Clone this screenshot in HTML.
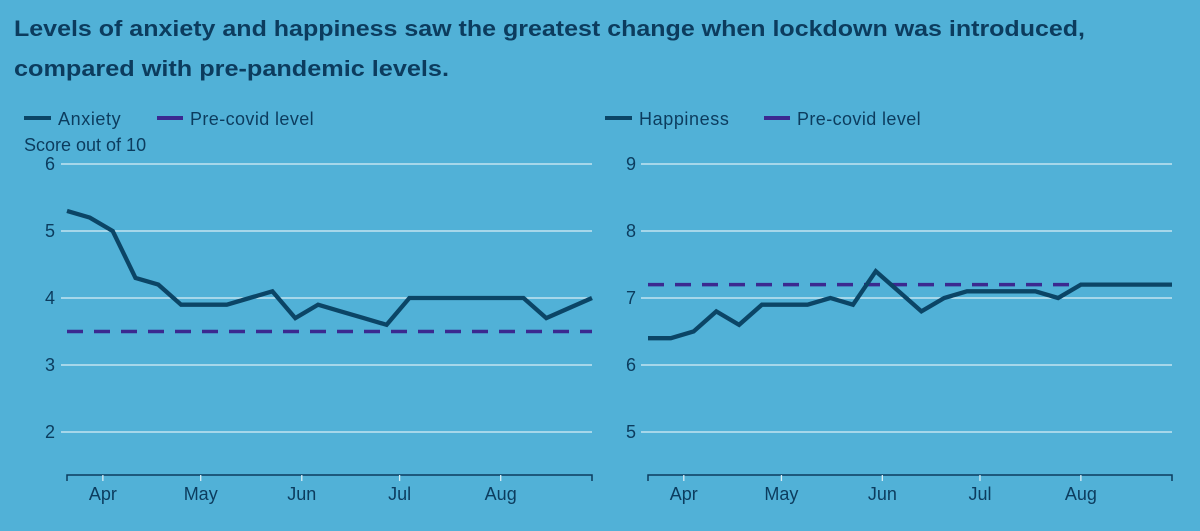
<!DOCTYPE html>
<html><head><meta charset="utf-8"><style>
html,body{margin:0;padding:0;background:#51b1d7;}
svg{display:block;font-family:"Liberation Sans",sans-serif;}
</style></head><body>
<svg id="chart" width="1200" height="531" viewBox="0 0 1200 531">
<rect width="1200" height="531" fill="#51b1d7"/>
<text x="14" y="36" font-size="22" font-weight="bold" fill="#0c3c5e" textLength="1071" lengthAdjust="spacingAndGlyphs">Levels of anxiety and happiness saw the greatest change when lockdown was introduced,</text>
<text x="14" y="76" font-size="22" font-weight="bold" fill="#0c3c5e" textLength="435" lengthAdjust="spacingAndGlyphs">compared with pre-pandemic levels.</text>
<g id="left"></g>
<g id="right"></g>
</svg>
<script>
const monthLabels = ["Apr","May","Jun","Jul","Aug"];
const monthDays = [11,41,72,102,133];
const weekIndex = [0,1,2,3,4,5,6,7,8,9,10,11,12,13,14,15,16,17,18,19,20,21,22,23];
const anxiety = [5.3,5.2,5.0,4.3,4.2,3.9,3.9,3.9,4.0,4.1,3.7,3.9,3.8,3.7,3.6,4.0,4.0,4.0,4.0,4.0,4.0,3.7,3.85,4.0];
const happiness = [6.4,6.4,6.5,6.8,6.6,6.9,6.9,6.9,7.0,6.9,7.4,7.1,6.8,7.0,7.1,7.1,7.1,7.1,7.0,7.2,7.2,7.2,7.2,7.2];
const anxietyPre = 3.5;
const happinessPre = 7.2;
const anxietyTicks = [2,3,4,5,6];
const happinessTicks = [5,6,7,8,9];
const totalDays = 161;

const NS = "http://www.w3.org/2000/svg";
function mk(parent, tag, attrs, text){
  const e = document.createElementNS(NS, tag);
  for (const k in attrs) e.setAttribute(k, attrs[k]);
  if (text !== undefined) e.textContent = text;
  parent.appendChild(e);
  return e;
}
function panel(g, opt){
  const x0 = opt.x0, x1 = opt.x1;
  const xs = d => x0 + d / totalDays * (x1 - x0);
  const ys = v => 164 + (opt.ymax - v) * 67;
  let el = mk(g,"line",{x1:opt.lx,x2:opt.lx+27,y1:118,y2:118,stroke:"#0b4566","stroke-width":4});
  
  
  el = mk(g,"text",{x:opt.lx+34,y:125,"font-size":18,fill:"#0c3c5e","letter-spacing":0.6},opt.name);
  
  
  el = mk(g,"line",{x1:opt.lx2,x2:opt.lx2+26,y1:118,y2:118,stroke:"#3b2990","stroke-width":4});
  
  
  el = mk(g,"text",{x:opt.lx2+33,y:125,"font-size":18,fill:"#0c3c5e","letter-spacing":0.4},"Pre-covid level");
  
  
  opt.ticks.forEach(t => {
    const y = ys(t);
    let l = mk(g,"line",{x1:opt.gx,x2:x1,y1:y,y2:y,stroke:"#d9eef6","stroke-width":1.3});
    
    
    let t2 = mk(g,"text",{x:opt.tx,y:y+6,"font-size":18,fill:"#0c3c5e","text-anchor":"end"},String(t));
    
    
  });
  let ax = mk(g,"path",{d:`M${x0},481 V475 H${x1} V481`,stroke:"#0c3c5e","stroke-width":1.5,fill:"none"});
  
  
  monthDays.forEach((d,i) => {
    const x = xs(d);
    let tk = mk(g,"line",{x1:x,x2:x,y1:475,y2:481,stroke:"#d9eef6","stroke-width":1.3});
    
    
    let lb = mk(g,"text",{x:x,y:500,"font-size":18,fill:"#0c3c5e","text-anchor":"middle"},monthLabels[i]);
    
    
  });
  const py = ys(opt.pre);
  let pl = mk(g,"line",{x1:x0,x2:x1,y1:py,y2:py,stroke:"#3b2990","stroke-width":3.5,"stroke-dasharray":"16,11"});
  
  
  const pts = weekIndex.map((w,i) => xs(w*7).toFixed(1)+","+ys(opt.data[i]).toFixed(1)).join(" ");
  let sl = mk(g,"polyline",{points:pts,fill:"none",stroke:"#0b4566","stroke-width":4.3,"stroke-linejoin":"miter"});
  
  
}
panel(document.getElementById("left"),{x0:67,x1:592,gx:61,tx:55,lx:24,lx2:157,ymax:6,ticks:anxietyTicks,data:anxiety,pre:anxietyPre,name:"Anxiety",id:"anxiety"});
panel(document.getElementById("right"),{x0:648,x1:1172,gx:641,tx:636,lx:605,lx2:764,ymax:9,ticks:happinessTicks,data:happiness,pre:happinessPre,name:"Happiness",id:"happiness"});
const yt = document.createElementNS(NS,"text");
yt.setAttribute("x",24);yt.setAttribute("y",151);yt.setAttribute("font-size",18);yt.setAttribute("fill","#0c3c5e");
yt.textContent="Score out of 10";


document.getElementById("left").appendChild(yt);
</script>
</body></html>
